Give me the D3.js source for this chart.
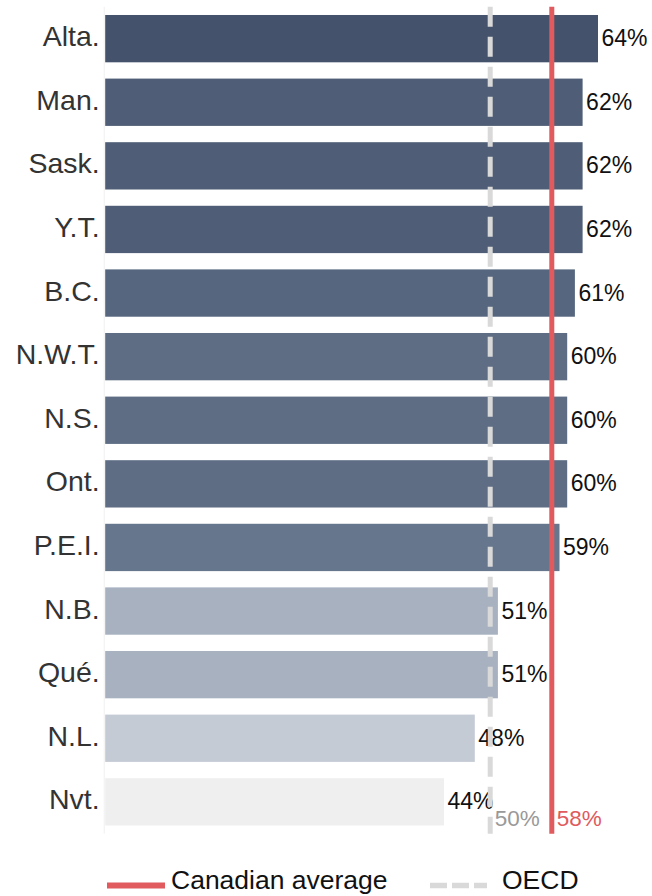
<!DOCTYPE html>
<html>
<head>
<meta charset="utf-8">
<script src="https://cdn.jsdelivr.net/npm/d3@7"></script>
<style>
  body { margin: 0; background: #fff; }
  text { font-family: "Liberation Sans", Arial, sans-serif; }
</style>
</head>
<body>
<div id="chart"></div>
<script>
// Data
const provinces = ['Alta.', 'Man.', 'Sask.', 'Y.T.', 'B.C.', 'N.W.T.', 'N.S.', 'Ont.', 'P.E.I.', 'N.B.', 'Qué.', 'N.L.', 'Nvt.'];
const shares = [64, 62, 62, 62, 61, 60, 60, 60, 59, 51, 51, 48, 44];
const oecdAverage = 50;
const canadianAverage = 58;
const legendLabels = ['Canadian average', 'OECD'];

// Bar shade by value
const shadeValues = [64, 62, 61, 60, 59, 51, 48, 44];
const shadeColors = ['#44536b', '#4f5e76', '#56667e', '#5e6d84', '#66768c', '#a7b1bf', '#c5cbd5', '#efefef'];

const width = 652;
const height = 896;
const red = '#e05a5e';
const grey = '#d9d9d9';

const rows = provinces.map((p, i) => ({ name: p, value: shares[i] }));

const svg = d3.select('#chart')
    .append('svg')
    .attr('width', width)
    .attr('height', height);

// Scales
const x = d3.scaleLinear()
    .domain([0, 70])
    .range([105.2, 105.2 + 539]);

const y = d3.scaleBand()
    .domain(provinces)
    .range([6.85, 833.65])
    .paddingInner(0.256)
    .paddingOuter(0.128);

const color = d3.scaleOrdinal()
    .domain(shadeValues)
    .range(shadeColors);

// Faint category axis line
const yRange = y.range();
svg.append('line')
    .attr('x1', x(0) - 1)
    .attr('x2', x(0) - 1)
    .attr('y1', yRange[0])
    .attr('y2', yRange[1])
    .attr('stroke', '#f0f0f0')
    .attr('stroke-width', 1);

// Category labels
const yAxis = d3.axisLeft(y).tickSize(0).tickPadding(5.5);
const yAxisG = svg.append('g')
    .attr('transform', `translate(${x(0)},0)`)
    .call(yAxis);
yAxisG.select('.domain').remove();
yAxisG.selectAll('text')
    .attr('dy', null)
    .attr('y', 7.5)
    .style('font-size', '28.5px')
    .style('font-family', '"Liberation Sans", Arial, sans-serif')
    .attr('fill', '#333');

// Bars
svg.selectAll('rect.bar')
    .data(rows)
    .enter()
    .append('rect')
    .attr('class', 'bar')
    .attr('x', x(0))
    .attr('y', d => y(d.name))
    .attr('width', d => x(d.value) - x(0))
    .attr('height', y.bandwidth())
    .attr('fill', d => color(d.value));

// Value labels
svg.selectAll('text.value')
    .data(rows)
    .enter()
    .append('text')
    .attr('class', 'value')
    .attr('x', d => x(d.value) + 3.5)
    .attr('y', d => y(d.name) + y.bandwidth() / 2 + 7.5)
    .style('font-size', '23px')
    .attr('fill', '#111')
    .text(d => d.value + '%');

// OECD reference line
svg.append('line')
    .attr('x1', x(oecdAverage))
    .attr('x2', x(oecdAverage))
    .attr('y1', yRange[0])
    .attr('y2', yRange[1])
    .attr('stroke', grey)
    .attr('stroke-width', 5)
    .attr('stroke-dasharray', '20,10');

// Canadian average line
svg.append('line')
    .attr('x1', x(canadianAverage))
    .attr('x2', x(canadianAverage))
    .attr('y1', yRange[0])
    .attr('y2', yRange[1])
    .attr('stroke', red)
    .attr('stroke-width', 5);

// Reference labels
svg.append('text')
    .attr('x', x(oecdAverage) + 4.5)
    .attr('y', 826)
    .style('font-size', '22.5px')
    .attr('fill', '#999')
    .text(oecdAverage + '%');

svg.append('text')
    .attr('x', x(canadianAverage) + 5)
    .attr('y', 826)
    .style('font-size', '22.5px')
    .attr('fill', red)
    .text(canadianAverage + '%');

// Legend
const legend = svg.append('g').attr('transform', 'translate(0,885.6)');

legend.append('line')
    .attr('x1', 107).attr('x2', 165)
    .attr('stroke', red)
    .attr('stroke-width', 6);

legend.append('text')
    .attr('x', 171)
    .attr('y', 3)
    .style('font-size', '26.5px')
    .attr('fill', '#111')
    .text(legendLabels[0]);

legend.append('line')
    .attr('x1', 430).attr('x2', 487)
    .attr('stroke', grey)
    .attr('stroke-width', 5.5)
    .attr('stroke-dasharray', '17,5');

legend.append('text')
    .attr('x', 502)
    .attr('y', 3)
    .style('font-size', '26.5px')
    .attr('fill', '#111')
    .text(legendLabels[1]);
</script>
</body>
</html>
